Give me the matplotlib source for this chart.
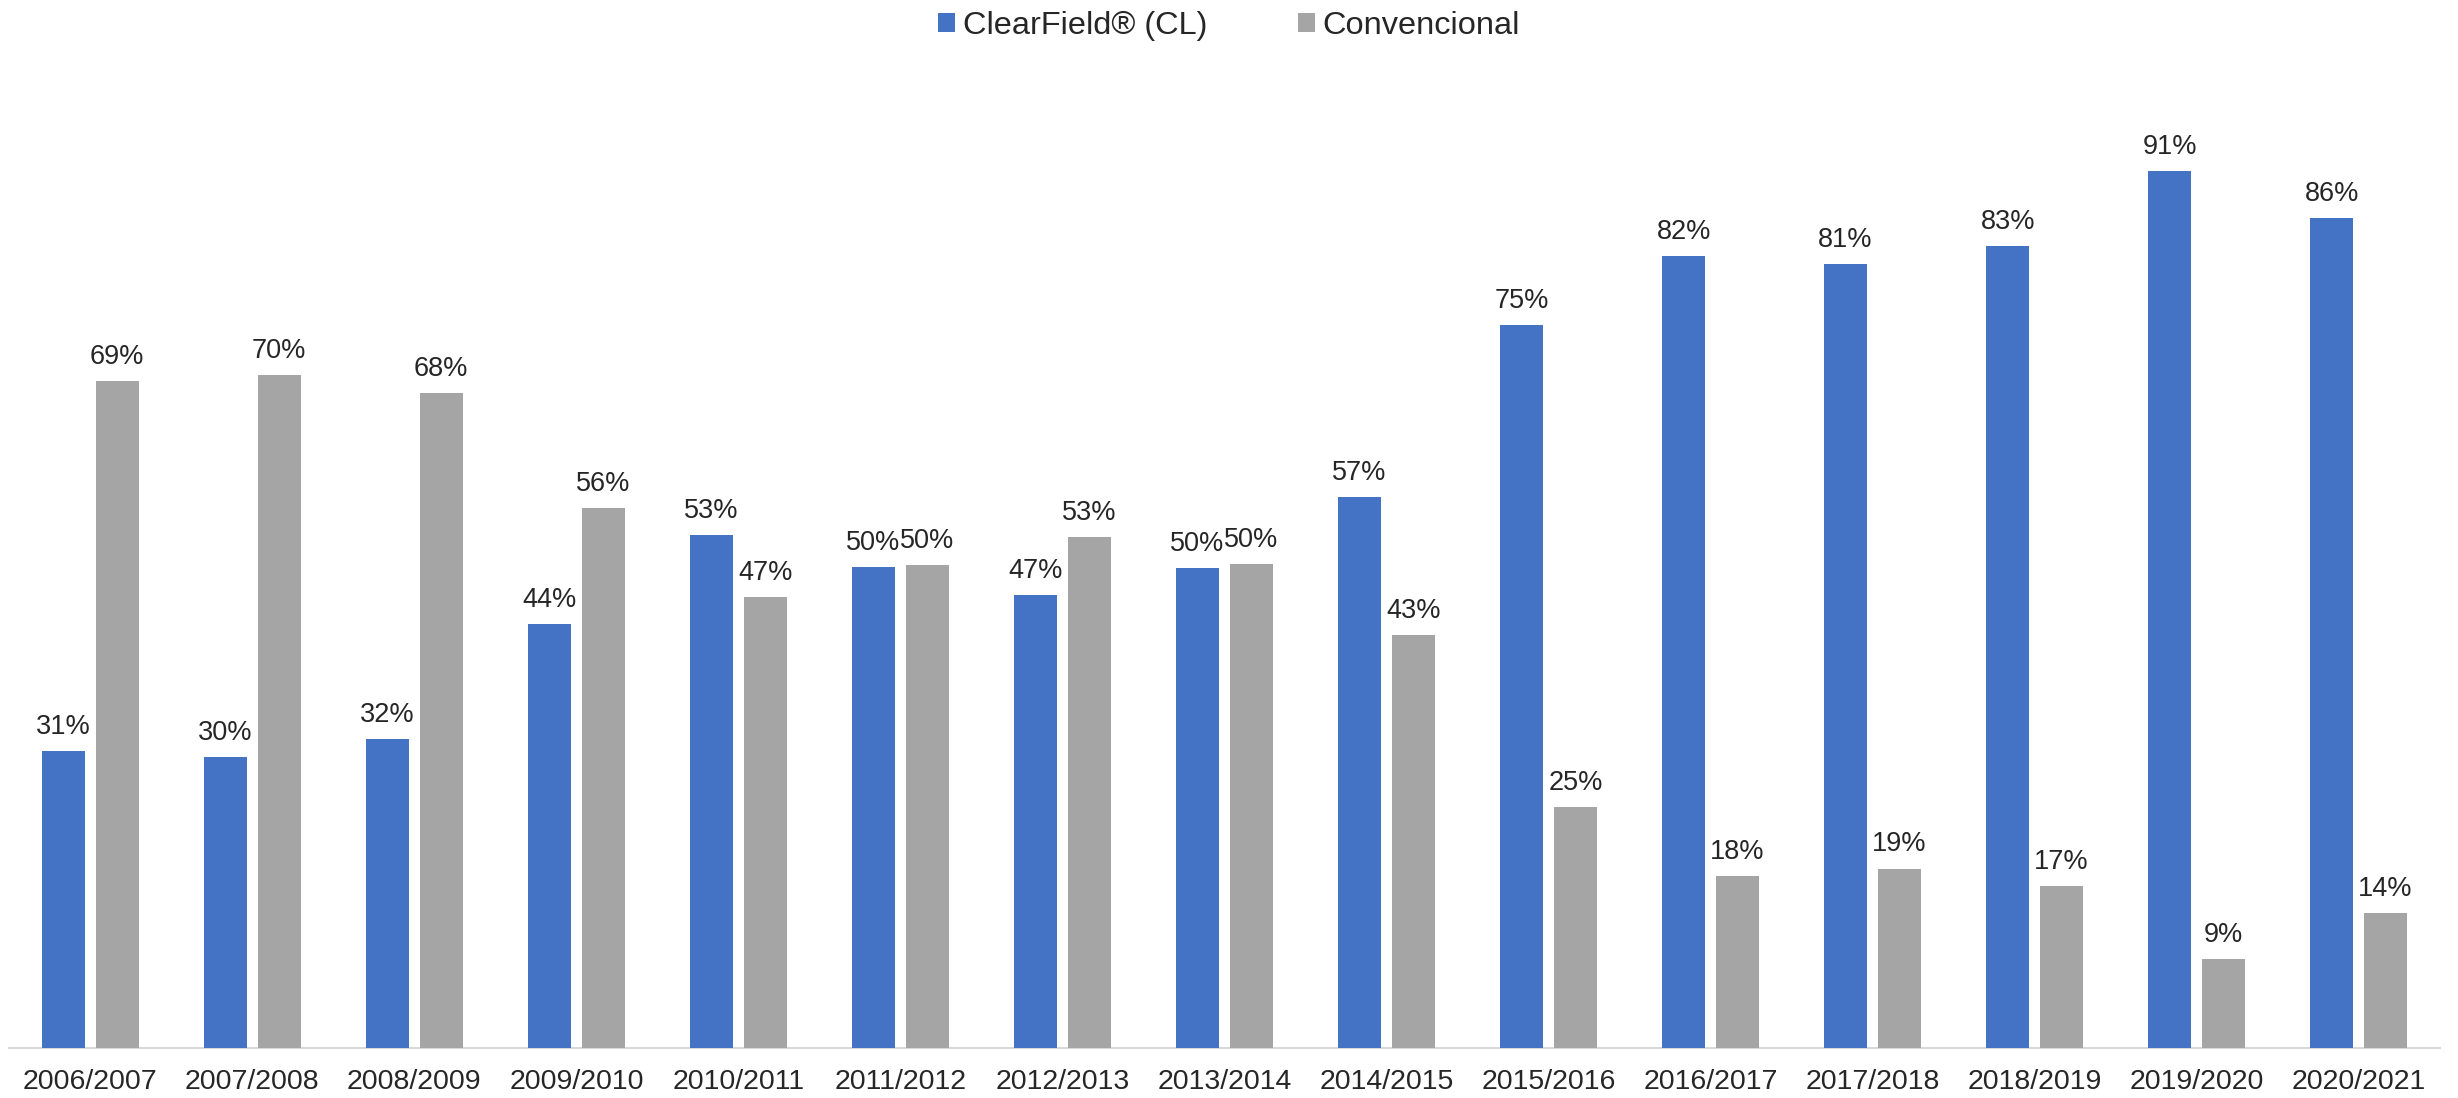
import matplotlib
matplotlib.use("Agg")
import matplotlib.pyplot as plt
import numpy as np

categories = ["2006/2007", "2007/2008", "2008/2009", "2009/2010", "2010/2011",
              "2011/2012", "2012/2013", "2013/2014", "2014/2015", "2015/2016",
              "2016/2017", "2017/2018", "2018/2019", "2019/2020", "2020/2021"]
clearfield = [30.8, 30.2, 32.0, 44.0, 53.2, 49.9, 47.0, 49.8, 57.2, 75.0,
              82.2, 81.4, 83.2, 91.0, 86.1]
convencional = [69.2, 69.8, 68.0, 56.0, 46.8, 50.1, 53.0, 50.2, 42.8, 25.0,
                17.8, 18.6, 16.8, 9.2, 14.0]
series_names = ["ClearField® (CL)", "Convencional"]
colors = ["#4472C4", "#A5A5A5"]

plt.rcParams['font.family'] = ['Liberation Sans', 'DejaVu Sans']
text_color = "#262626"

fig = plt.figure(figsize=(24.58, 10.98), dpi=100)
ax = fig.add_axes([0.0038, 0.0458, 0.9887, 0.8772])

x = np.arange(len(categories))
w = 0.265
off = 0.166
b1 = ax.bar(x - off, clearfield, w, color=colors[0], label=series_names[0], zorder=3)
b2 = ax.bar(x + off, convencional, w, color=colors[1], label=series_names[1], zorder=3)

for bars, vals in ((b1, clearfield), (b2, convencional)):
    for rect, v in zip(bars, vals):
        ax.annotate(f"{round(v):.0f}%", (rect.get_x() + rect.get_width() / 2, v),
                    xytext=(0, 8), textcoords="offset points", ha="center", va="bottom",
                    fontsize=19.5, color=text_color)

ax.set_xlim(-0.5, len(categories) - 0.5)
ax.set_ylim(0, 100)
ax.set_xticks(x)
ax.set_xticklabels(categories, fontsize=20.5, color=text_color)
ax.tick_params(axis="x", length=0, pad=15)
ax.set_yticks([])
for s in ("top", "right", "left"):
    ax.spines[s].set_visible(False)
ax.spines["bottom"].set_color("#D9D9D9")
ax.spines["bottom"].set_linewidth(1.5)
ax.spines["bottom"].set_zorder(2)

leg = fig.legend(handles=[b1, b2], labels=series_names, loc="center",
                 bbox_to_anchor=(0.5, 0.976), ncol=2, frameon=False,
                 fontsize=23.4, handlelength=0.51, handleheight=0.51,
                 handletextpad=0.25, columnspacing=2.8, borderpad=0, borderaxespad=0)
for t in leg.get_texts():
    t.set_color(text_color)

fig.savefig("out.png", dpi=100)
